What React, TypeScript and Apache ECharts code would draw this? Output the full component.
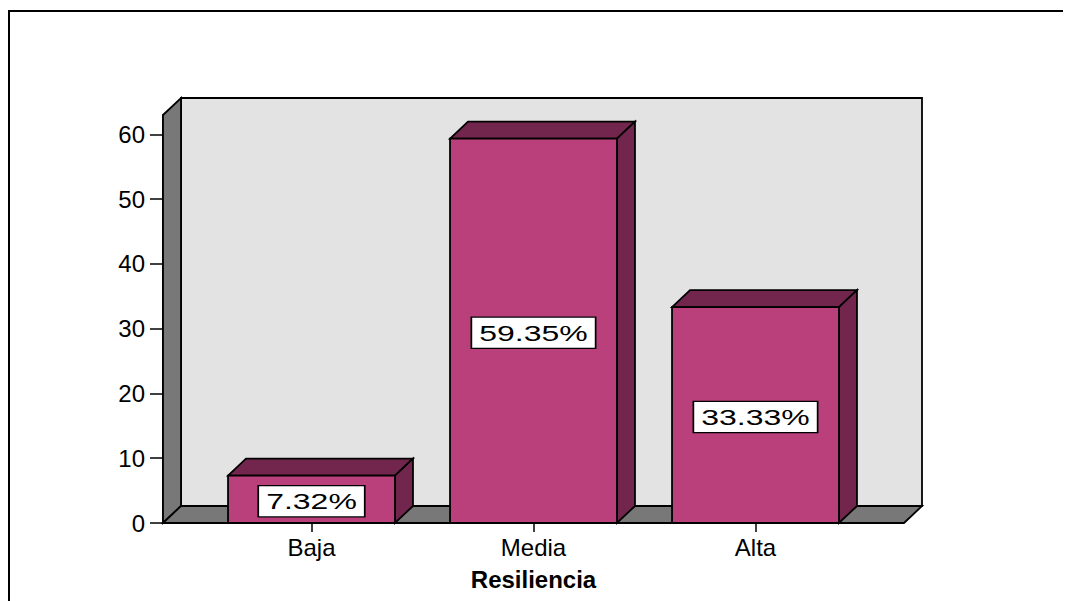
import React, { useEffect, useRef } from "react";
import * as echarts from "echarts";

const CATEGORIES = ["Baja", "Media", "Alta"];
const PERCENTS = [7.32, 59.35, 33.33];
const Y_TICKS = [0, 10, 20, 30, 40, 50, 60];
const Y_MAX = 63;
const X_TITLE = "Resiliencia";

const FONT = '"Liberation Sans", Arial, sans-serif';
const FRONT = "#BA407B";
const DARK = "#72264D";
const WALL = "#E3E3E3";
const SIDE = "#787878";
const DX = 18;
const DY = 17;
const PAD = 37.5;
const BAR_RATIO = 0.752;
const LW = 1.8;

export default function App() {
  const ref = useRef<HTMLDivElement>(null);
  useEffect(() => {
    if (!ref.current) return;
    const chart = echarts.init(ref.current, null, { renderer: "svg" });
    const option: any = {
      animation: false,
      backgroundColor: "#fff",
      grid: {
        left: 200.5,
        right: 198.5,
        top: 115,
        bottom: 78,
        containLabel: false,
        outerBoundsMode: "none",
      },
      graphic: [
        {
          type: "polyline",
          shape: {
            points: [
              [9, 700],
              [9, 11],
              [1063, 11],
            ],
          },
          style: { fill: "none", stroke: "#000", lineWidth: 2 },
          z: 0,
        },
      ],
      xAxis: {
        type: "category",
        data: CATEGORIES,
        axisLine: { show: false },
        axisTick: {
          show: true,
          alignWithLabel: true,
          length: 9,
          lineStyle: { color: "#000", width: 1.5 },
        },
        axisLabel: {
          color: "#000",
          fontSize: 24,
          fontFamily: FONT,
          margin: 12,
        },
        name: X_TITLE,
        nameLocation: "middle",
        nameGap: 44,
        nameTextStyle: {
          color: "#000",
          fontSize: 24,
          fontWeight: "bold",
          fontFamily: FONT,
        },
        splitLine: { show: false },
      },
      yAxis: {
        type: "value",
        min: 0,
        max: Y_MAX,
        offset: PAD,
        axisLine: { show: true, lineStyle: { color: "#000", width: LW } },
        axisTick: {
          show: true,
          length: 13,
          customValues: Y_TICKS,
          lineStyle: { color: "#000", width: 1.5 },
        },
        axisLabel: {
          customValues: Y_TICKS,
          color: "#000",
          fontSize: 24,
          fontFamily: FONT,
          margin: 18,
        },
        splitLine: { show: false },
      },
      series: [
        {
          type: "custom",
          z: 1,
          silent: true,
          data: [[0, 0]],
          renderItem: (params: any, api: any) => {
            const cs = params.coordSys;
            const left = cs.x - PAD;
            const right = cs.x + cs.width + PAD;
            const top = cs.y;
            const bottom = cs.y + cs.height;
            const st = { stroke: "#000", lineWidth: LW };
            return {
              type: "group",
              children: [
                {
                  type: "rect",
                  shape: {
                    x: left + DX,
                    y: top - DY,
                    width: right - left,
                    height: bottom - top,
                  },
                  style: { fill: WALL, ...st },
                },
                {
                  type: "polygon",
                  shape: {
                    points: [
                      [left, top],
                      [left + DX, top - DY],
                      [left + DX, bottom - DY],
                      [left, bottom],
                    ],
                  },
                  style: { fill: SIDE, ...st },
                },
                {
                  type: "polygon",
                  shape: {
                    points: [
                      [left, bottom],
                      [left + DX, bottom - DY],
                      [right + DX, bottom - DY],
                      [right, bottom],
                    ],
                  },
                  style: { fill: SIDE, ...st },
                },
              ],
            };
          },
        },
        {
          type: "custom",
          z: 3,
          data: PERCENTS.map((v, i) => [i, v]),
          renderItem: (params: any, api: any) => {
            const i = api.value(0);
            const v = api.value(1);
            const top = api.coord([i, v]);
            const base = api.coord([i, 0]);
            const w = api.size([1, 0])[0] * BAR_RATIO;
            const x0 = top[0] - w / 2;
            const x1 = top[0] + w / 2;
            const yT = top[1];
            const yB = base[1];
            const st = { stroke: "#000", lineWidth: LW };
            return {
              type: "group",
              children: [
                {
                  type: "polygon",
                  shape: {
                    points: [
                      [x0, yT],
                      [x0 + DX, yT - DY],
                      [x1 + DX, yT - DY],
                      [x1, yT],
                    ],
                  },
                  style: { fill: DARK, ...st },
                },
                {
                  type: "polygon",
                  shape: {
                    points: [
                      [x1, yT],
                      [x1 + DX, yT - DY],
                      [x1 + DX, yB - DY],
                      [x1, yB],
                    ],
                  },
                  style: { fill: DARK, ...st },
                },
                {
                  type: "rect",
                  shape: { x: x0, y: yT, width: w, height: yB - yT },
                  style: { fill: FRONT, ...st },
                },
                {
                  type: "text",
                  x: top[0],
                  y: (yT + yB) / 2 + 2,
                  scaleX: 1.42,
                  style: {
                    text: v.toFixed(2) + "%",
                    fontSize: 22.5,
                    fontFamily: FONT,
                    fill: "#000",
                    align: "center",
                    verticalAlign: "middle",
                    backgroundColor: "#fff",
                    borderColor: "#000",
                    borderWidth: 1.2,
                    padding: [4, 5, 3, 5],
                  },
                },
              ],
            };
          },
        },
      ],
    };
    chart.setOption(option);
    return () => chart.dispose();
  }, []);
  return (
    <div
      ref={ref}
      style={{ position: "absolute", left: 0, top: 0, width: 1065, height: 601 }}
    />
  );
}
